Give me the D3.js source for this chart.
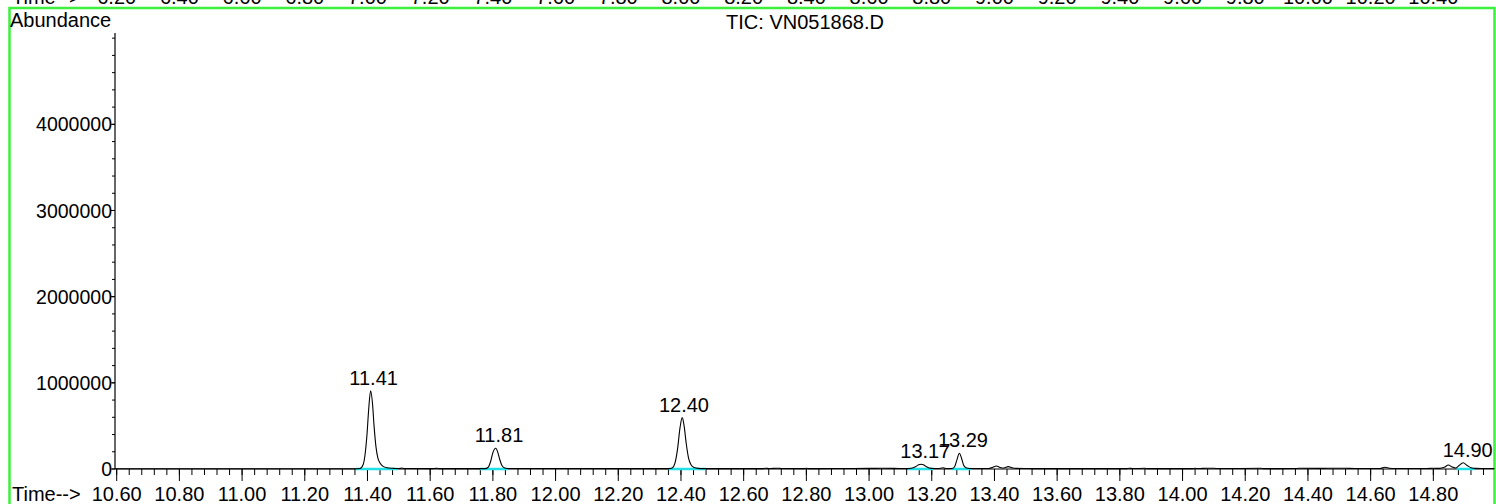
<!DOCTYPE html>
<html><head><meta charset="utf-8">
<script src="https://cdn.jsdelivr.net/npm/d3@7"></script>
<style>html,body{margin:0;padding:0;background:#fff;overflow:hidden}svg{display:block}text{font-family:"Liberation Sans",Arial,sans-serif;fill:#000}</style>
</head><body>
<svg id="c" width="1496" height="504"></svg>
<script>
// ---- data ----
const title = "TIC: VN051868.D";
const xTickLabels = ["10.60","10.80","11.00","11.20","11.40","11.60","11.80","12.00","12.20","12.40","12.60","12.80","13.00","13.20","13.40","13.60","13.80","14.00","14.20","14.40","14.60","14.80"];
const prevTickLabels = ["6.20","6.40","6.60","6.80","7.00","7.20","7.40","7.60","7.80","8.00","8.20","8.40","8.60","8.80","9.00","9.20","9.40","9.60","9.80","10.00","10.20","10.40"];
const yTickValues = [0,1000000,2000000,3000000,4000000];
const traceTime = [10.595,11.00,11.36,11.376,11.386,11.392,11.398,11.404,11.410,11.416,11.421,11.427,11.433,11.440,11.450,11.462,11.48,11.495,11.505,11.510,11.516,11.60,11.615,11.622,11.630,11.775,11.785,11.793,11.800,11.809,11.816,11.822,11.829,11.838,11.85,12.36,12.372,12.381,12.389,12.397,12.404,12.410,12.417,12.424,12.432,12.442,12.455,12.47,12.66,12.67,12.68,12.71,12.72,12.79,12.80,12.81,12.90,13.00,13.04,13.08,13.12,13.135,13.148,13.158,13.166,13.175,13.185,13.197,13.22,13.236,13.248,13.266,13.274,13.281,13.288,13.295,13.301,13.309,13.32,13.38,13.395,13.406,13.418,13.43,13.444,13.456,13.47,13.50,13.52,13.82,13.83,13.84,13.88,13.89,14.03,14.04,14.05,14.08,14.10,14.12,14.25,14.26,14.36,14.37,14.45,14.48,14.52,14.55,14.63,14.646,14.66,14.68,14.78,14.80,14.82,14.835,14.848,14.860,14.871,14.882,14.895,14.908,14.920,14.935,14.96,14.995];
const traceAbund = [3000,3000,3000,6000,50000,160000,380000,700000,909000,760000,500000,260000,130000,70000,30000,14000,8000,5000,7000,11000,6000,4000,6000,9000,4000,4000,20000,90000,190000,240000,190000,110000,40000,12000,5000,4000,12000,70000,230000,480000,596000,500000,290000,130000,50000,18000,7000,4000,4000,9000,5000,9000,5000,4000,8000,4000,6000,7000,8000,7000,5000,8000,25000,48000,55000,47000,22000,7000,5000,14000,5000,6000,35000,115000,182000,125000,50000,14000,5000,6000,20000,35000,18000,12000,28000,14000,7000,6000,4000,4000,9000,5000,8000,4000,4000,8000,5000,9000,8000,5000,8000,4000,5000,8000,7000,9000,8000,6000,6000,20000,9000,5000,6000,8000,7000,20000,46000,22000,12000,40000,73000,40000,15000,7000,6000,5000];
const peakTimes = [11.41,11.81,12.40,13.17,13.29,14.90];
const peakLabels = ["11.41","11.81","12.40","13.17","13.29","14.90"];
const peakAbund = [909000,240000,596000,55000,182000,73000];
const intStart = [11.363,11.759,12.360,13.125,13.263,14.874];
const intEnd   = [11.495,11.849,12.480,13.205,13.327,14.932];

// ---- layout ----
const svg = d3.select("#c");
const X0 = 115, X1 = 1494, Y0 = 469, Y1 = 33;
const x = d3.scaleLinear().domain([10.5946, 14.9935]).range([X0, X1]);
const y = d3.scaleLinear().domain([0, 5060000]).range([Y0, Y1]);
const xPrev = d3.scaleLinear().domain([6.1946, 10.5935]).range([X0, X1]);

// frame (green)
svg.append("rect").attr("x",9.5).attr("y",8).attr("width",1485).attr("height",520)
  .attr("fill","none").attr("stroke","#3cf03c").attr("stroke-width",2.5);

// previous panel's cut-off axis labels
svg.append("text").attr("x",12).attr("y",4).attr("font-size",20).text("Time-->");
svg.selectAll("text.prev").data(prevTickLabels).join("text").attr("class","prev")
  .attr("x",d=>xPrev(+d)).attr("y",4).attr("text-anchor","middle").attr("font-size",20).text(d=>d);

// titles
svg.append("text").attr("x",10).attr("y",27).attr("font-size",20).text("Abundance");
svg.append("text").attr("x",805).attr("y",29).attr("text-anchor","middle").attr("font-size",20).text(title);

// y axis
svg.append("line").attr("x1",X0).attr("x2",X0).attr("y1",Y1).attr("y2",Y0).attr("stroke","#000").attr("stroke-width",1.2);
const yMinor = d3.range(0, 5060000, 200000);
svg.selectAll("line.ym").data(yMinor).join("line").attr("class","ym")
  .attr("x1",X0-3).attr("x2",X0).attr("y1",d=>y(d)).attr("y2",d=>y(d)).attr("stroke","#000");
svg.selectAll("line.yM").data(yTickValues).join("line").attr("class","yM")
  .attr("x1",X0-5).attr("x2",X0).attr("y1",d=>y(d)).attr("y2",d=>y(d)).attr("stroke","#000");
svg.selectAll("text.yl").data(yTickValues).join("text").attr("class","yl")
  .attr("x",X0-3).attr("y",d=>y(d)+7).attr("text-anchor","end").attr("font-size",19.5).text(d=>d);

// x axis
svg.append("line").attr("x1",X0).attr("x2",X1).attr("y1",Y0).attr("y2",Y0).attr("stroke","#000").attr("stroke-width",1.2);
const xMinor = d3.range(10.60, 14.995, 0.04);
svg.selectAll("line.xm").data(xMinor).join("line").attr("class","xm")
  .attr("x1",d=>x(d)).attr("x2",d=>x(d)).attr("y1",Y0).attr("y2",Y0+6).attr("stroke","#000");
svg.selectAll("line.xM").data(xTickLabels).join("line").attr("class","xM")
  .attr("x1",d=>x(+d)).attr("x2",d=>x(+d)).attr("y1",Y0).attr("y2",Y0+12).attr("stroke","#000");
svg.append("text").attr("x",12).attr("y",501).attr("font-size",20).text("Time-->");
svg.selectAll("text.xl").data(xTickLabels).join("text").attr("class","xl")
  .attr("x",d=>x(+d)).attr("y",501).attr("text-anchor","middle").attr("font-size",20).text(d=>d);

// integration baselines
svg.selectAll("line.int").data(intStart).join("line").attr("class","int")
  .attr("x1",d=>x(d)).attr("x2",(d,i)=>x(intEnd[i])).attr("y1",Y0).attr("y2",Y0)
  .attr("stroke","#22e0e8").attr("stroke-width",2.5);

// trace
const pts = traceTime.map((t,i)=>[t,traceAbund[i]]);
svg.append("path").datum(pts)
  .attr("d", d3.line().x(d=>x(d[0])).y(d=>y(d[1])).curve(d3.curveMonotoneX))
  .attr("fill","none").attr("stroke","#000").attr("stroke-width",1.1);

// peak labels
svg.selectAll("text.pk").data(peakTimes).join("text").attr("class","pk")
  .attr("x",d=>x(d)+3).attr("y",(d,i)=>y(peakAbund[i])-6).attr("text-anchor","middle").attr("font-size",20)
  .text((d,i)=>peakLabels[i]);
</script>
</body></html>
